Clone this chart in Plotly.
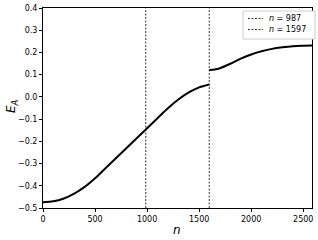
import plotly.graph_objects as go

n_seg1 = [0, 100, 200, 300, 400, 500, 600, 700, 800, 900, 1000, 1100, 1200, 1300, 1400, 1500, 1597]
e_seg1 = [-0.474, -0.470, -0.457, -0.435, -0.405, -0.366, -0.321, -0.276, -0.231, -0.186, -0.141,
          -0.096, -0.051, -0.012, 0.020, 0.043, 0.056]
n_seg2 = [1597, 1650, 1700, 1800, 1900, 2000, 2100, 2200, 2300, 2400, 2500, 2584]
e_seg2 = [0.121, 0.123, 0.129, 0.149, 0.172, 0.191, 0.205, 0.216, 0.223, 0.228, 0.230, 0.231]
vlines = [987, 1597]
legend_labels = [f"<i>n</i> = {v}" for v in vlines]
y_range = [-0.5, 0.4]
x_range = [0, 2584]

W, H = 318, 240
ML, MR, MT, MB = 43, 6, 8, 32
pw, ph = W - ML - MR, H - MT - MB

def px_x(p):  # pixel -> paper x
    return (p - ML) / pw

def px_y(p):  # pixel -> paper y
    return 1 - (p - MT) / ph

fig = go.Figure()
for xs, ys in [(n_seg1, e_seg1), (n_seg2, e_seg2)]:
    fig.add_trace(go.Scatter(x=xs, y=ys, mode="lines",
                             line=dict(color="black", width=2, shape="spline", smoothing=0.8),
                             showlegend=False, hoverinfo="skip"))
for v in vlines:
    fig.add_trace(go.Scatter(x=[v, v], y=y_range, mode="lines",
                             line=dict(color="black", width=0.8, dash="2px,1.5px"),
                             showlegend=False, hoverinfo="skip"))

# manual compact legend (matplotlib style)
shapes = [dict(type="rect", xref="paper", yref="paper",
               x0=px_x(243), x1=px_x(315), y0=px_y(39), y1=px_y(11),
               line=dict(color="#cccccc", width=1), fillcolor="white", layer="above")]
annotations = []
for i, lab in enumerate(legend_labels):
    yy = 18.5 + i * 11
    shapes.append(dict(type="line", xref="paper", yref="paper",
                       x0=px_x(248), x1=px_x(263), y0=px_y(yy), y1=px_y(yy),
                       line=dict(color="black", width=0.8, dash="2px,1.5px"), layer="above"))
    annotations.append(dict(xref="paper", yref="paper", x=px_x(267), y=px_y(yy), text=lab,
                            showarrow=False, xanchor="left", yanchor="middle",
                            font=dict(size=8, family="DejaVu Sans", color="black")))

annotations.append(dict(xref="paper", yref="paper", x=px_x(177), y=px_y(230), text="<i>n</i>",
                        showarrow=False, xanchor="center", yanchor="middle",
                        font=dict(size=12, family="DejaVu Sans", color="black")))
annotations.append(dict(xref="paper", yref="paper", x=px_x(12), y=px_y(106), text="<i>E<sub>A</sub></i>",
                        showarrow=False, xanchor="center", yanchor="middle", textangle=-90,
                        font=dict(size=12, family="DejaVu Sans", color="black")))

axis_common = dict(showline=True, linecolor="black", linewidth=1, mirror=True, ticks="outside",
                   ticklen=3, tickcolor="black", showgrid=False, zeroline=False, automargin=False,
                   tickfont=dict(size=8, family="DejaVu Sans", color="black"))
fig.update_layout(
    width=W, height=H, margin=dict(l=ML, r=MR, t=MT, b=MB),
    paper_bgcolor="white", plot_bgcolor="white", showlegend=False,
    xaxis=dict(range=x_range, tickvals=[0, 500, 1000, 1500, 2000, 2500], **axis_common),
    yaxis=dict(range=y_range, dtick=0.1, tickformat=".1f", **axis_common),
    shapes=shapes, annotations=annotations,
)
fig.write_html("out.html", config={"displayModeBar": False},
               post_script="document.body.style.margin='0';document.body.style.overflow='hidden';")
